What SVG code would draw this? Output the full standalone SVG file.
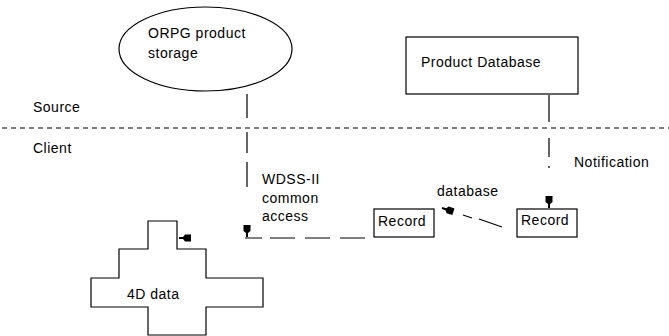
<svg xmlns="http://www.w3.org/2000/svg" width="669" height="336" viewBox="0 0 669 336">
<style>
text{font-family:"Liberation Sans",Arial,sans-serif;font-size:14px;letter-spacing:0.5px;fill:#000}
.s{fill:none;stroke:#000;stroke-width:1.2}
.c{stroke:#000;stroke-width:1.2;fill:none}
</style>
<defs>
<path id="ah" d="M-3.5,-12 H3.5 V-6 L1,-4 V0 H-1 V-4 L-3.5,-6 Z" fill="#000"/>
</defs>
<rect width="669" height="336" fill="#fff"/>
<g id="labels">
<text x="33" y="112">Source</text>
<text x="33" y="153">Client</text>
<line x1="2" y1="128" x2="669" y2="128" stroke="#000" stroke-width="1.2" stroke-dasharray="5,4"/>
</g>
<g id="orpg">
<ellipse class="s" cx="205.5" cy="49" rx="86.5" ry="42"/>
<text x="148" y="38">ORPG product</text>
<text x="148" y="58">storage</text>
</g>
<g id="productdb">
<rect class="s" x="406" y="37" width="172" height="57"/>
<text x="421" y="67">Product Database</text>
</g>
<g id="record1">
<rect class="s" x="374" y="209" width="60" height="28"/>
<text x="378" y="226">Record</text>
</g>
<g id="record2">
<rect class="s" x="517" y="209" width="60" height="28"/>
<text x="521" y="225">Record</text>
</g>
<g id="data4d">
<polygon class="s" points="148,221 177,221 177,249 206,249 206,278 263,278 263,307 206,307 206,335 148,335 148,307 91,307 91,278 119,278 119,249 148,249"/>
<text x="127" y="299">4D data</text>
</g>
<g id="connectors">
<path class="c" d="M247,94 V118 M247,132 V153 M247,162 V187"/>
<use href="#ah" transform="translate(247,237)"/>
<path class="c" d="M245,238 H262 M270,238 H295 M305,238 H330 M340,238 H365"/>
<use href="#ah" transform="translate(179,238) rotate(90)"/>
<path class="c" d="M549,95 V122 M549,138 V157 M549,166 V168"/>
<use href="#ah" transform="translate(549,208)"/>
<path class="c" d="M463,215 L472,218 M479,219 L502,227"/>
<use href="#ah" transform="translate(442,208) rotate(108)"/>
<text x="262" y="184">WDSS-II</text>
<text x="262" y="203">common</text>
<text x="262" y="221">access</text>
<text x="437" y="196">database</text>
<text x="574" y="167">Notification</text>
</g>
</svg>
